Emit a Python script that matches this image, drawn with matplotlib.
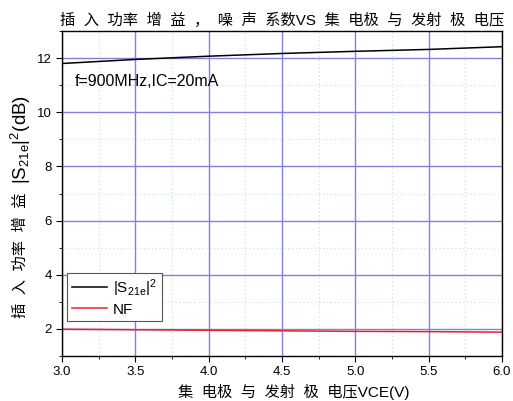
import matplotlib
matplotlib.use('Agg')
from matplotlib import pyplot as plt
import matplotlib.ticker as mticker

lat_cjk = ['Liberation Sans', 'Noto Sans CJK SC']
plt.rcParams['font.family'] = lat_cjk
plt.rcParams['mathtext.fontset'] = 'custom'
plt.rcParams['mathtext.rm'] = 'Liberation Sans'
plt.rcParams['mathtext.default'] = 'regular'

# data
vce = [3.0, 3.5, 4.0, 4.5, 5.0, 5.5, 6.0]
s21 = [11.80, 11.95, 12.07, 12.17, 12.25, 12.32, 12.42]
nf = [1.99, 1.97, 1.95, 1.93, 1.91, 1.90, 1.88]

title = '插  入  功率  增  益  ，  噪  声  系数VS  集  电极  与  发射  极  电压'
xlabel = '集  电极  与  发射  极  电压VCE(V)'
ylabel_cjk = '插  入  功率  增  益  '
ylabel_math = '|S$_{21e}$|$^2$(dB)'
note = 'f=900MHz,IC=20mA'

fig = plt.figure(figsize=(5.13, 4.01), dpi=100)
ax = fig.add_axes([62 / 513, 45 / 401, 440 / 513, 325 / 401])

ax.plot(vce, s21, color='black', lw=1.1, label='|S$_{21e}$|$^2$')
ax.plot(vce, nf, color='#e8202a', lw=1.1, label='NF')

ax.set_xlim(3.0, 6.0)
ax.set_ylim(1, 13)
ax.xaxis.set_major_locator(mticker.MultipleLocator(0.5))
ax.xaxis.set_minor_locator(mticker.MultipleLocator(0.25))
ax.yaxis.set_major_locator(mticker.FixedLocator([2, 4, 6, 8, 10, 12]))
ax.yaxis.set_minor_locator(mticker.MultipleLocator(1))
ax.xaxis.set_major_formatter(mticker.FormatStrFormatter('%.1f'))

ax.grid(which='major', color='#8282dc', lw=1.0)
ax.grid(which='minor', color='#c0e4c0', lw=0.8, ls=(0, (1, 2.5)))
ax.set_axisbelow(True)
ax.tick_params(which='both', direction='out', labelsize=9.5)
ax.tick_params(which='major', length=4)
ax.tick_params(which='minor', length=2.5)
for sp in ax.spines.values():
    sp.set_linewidth(1.0)

ax.text(0.03, 0.83, note, transform=ax.transAxes, fontsize=11.5)

leg = ax.legend(loc='lower left', bbox_to_anchor=(0.005, 0.098), fontsize=11,
                fancybox=False, edgecolor='#555555', framealpha=1,
                handlelength=2.3, handletextpad=0.4, borderpad=0.3,
                labelspacing=0.25, borderaxespad=0.2)
leg.get_frame().set_linewidth(0.8)

fig.text(0.5497, 0.95, title, ha='center', va='center', fontsize=11,
         family=lat_cjk)
fig.text(0.573, 0.022, xlabel, ha='center', va='center', fontsize=11,
         family=lat_cjk)

yl = fig.text(0.040, 1 - 318 / 401, ylabel_cjk, ha='center', va='bottom',
              rotation=90, fontsize=11, family=lat_cjk)
ax.annotate(ylabel_math, xy=(0.5, 1.0), xycoords=yl, ha='center', va='bottom',
            rotation=90, fontsize=13.5, annotation_clip=False)

fig.savefig('out.png', dpi=100)
